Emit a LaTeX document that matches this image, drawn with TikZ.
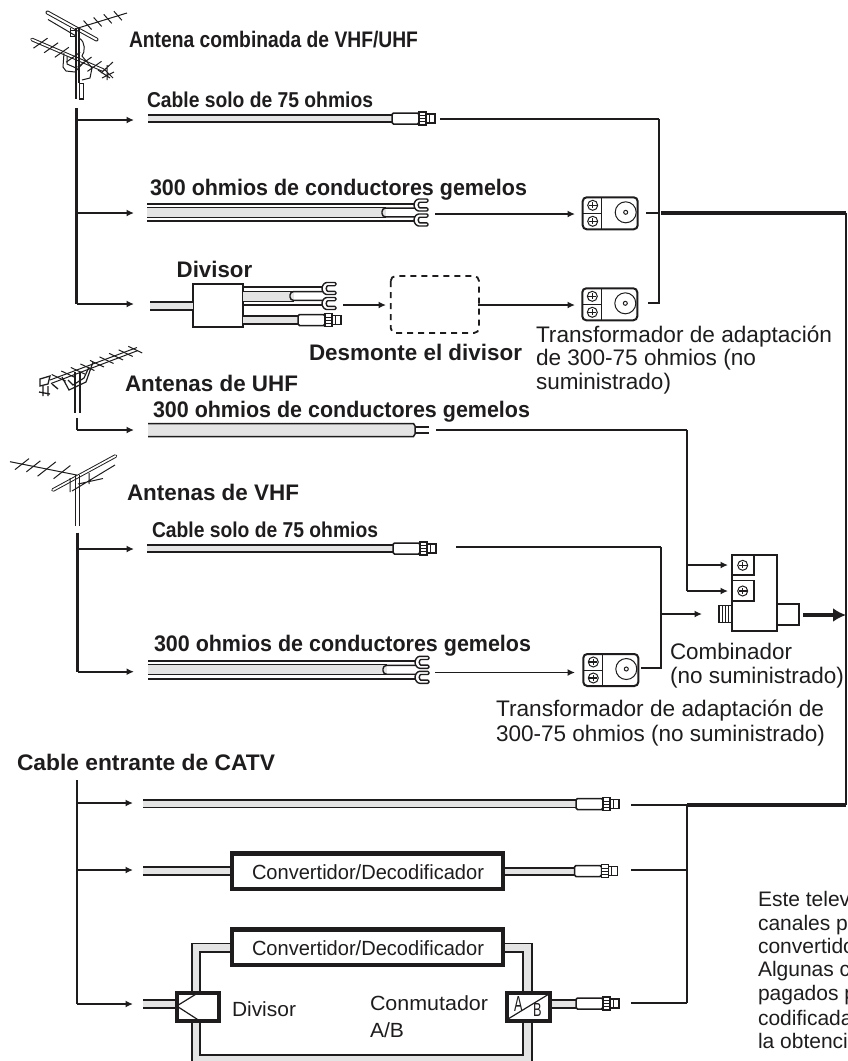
\documentclass[tikz,border=0pt]{standalone}
\usepackage{fontspec}
\usepackage{graphicx}
\setmainfont{Liberation Sans}
\usetikzlibrary{arrows.meta,calc}
\definecolor{ink}{HTML}{1E1C1D}
\definecolor{band}{HTML}{E4E4E4}
\tikzset{
  wire/.style={draw=ink,line width=1.9pt},
  arrowline/.style={wire,-{Latex[length=7.5pt,width=7pt]}},
  trunk/.style={draw=ink,line width=2.3pt},
  bus/.style={draw=ink,line width=4.4pt},
  fine/.style={draw=ink,line width=1pt},
  part/.style={draw=ink,line width=1.5pt,fill=white},
  lbl/.style={anchor=base west,inner sep=0pt,outer sep=0pt,text=ink},
  boxed/.style={draw=ink,line width=4.2pt,fill=white,inner sep=0pt},
}
\newcommand\fitw[2]{\resizebox{#1pt}{\height}{#2}}
\newcommand\bfl[1]{\fontsize{22.5}{24}\selectfont\bfseries #1}
\newcommand\rgl[1]{\fontsize{22.5}{24}\selectfont #1}
\newcommand\sml[1]{\fontsize{20.5}{24}\selectfont #1}
% coaxial plug: #1 sleeve start x, #2 axis y
\newcommand\plug[2]{
  \begin{scope}[shift={(#1,#2)}]
    \draw[part,rounded corners=1.5pt] (0,-5.5) rectangle (27,5.5);
    \draw[part,line width=1.1pt] (27,-6.5) rectangle (34,6.5);
    \draw[fine] (27,-3) -- (34,-3) (27,0) -- (34,0) (27,3) -- (34,3);
    \draw[part,line width=1.8pt] (34,-4.5) rectangle (43,4.5);
    \draw[fine] (37,-4.5) -- (37,4.5);
  \end{scope}}
% spade fork: #1 x, #2 y
\newcommand\fork[2]{
  \begin{scope}[shift={(#1,#2)}]
    \draw[part,line width=1.4pt,rounded corners=1.2pt] (14,-6) -- (6,-6) arc[start angle=270,end angle=90,radius=6] -- (14,6) -- (14,2.8) -- (7,2.8) arc[start angle=90,end angle=270,radius=2.8] -- (14,-2.8) -- cycle;
  \end{scope}}
% twin-lead ribbon: #1 start x, #2 fork x, #3 centre y
\newcommand\twin[3]{
  \fill[band] (#1,#3-5) rectangle (#2-28,#3+5);
  \draw[draw=ink,line width=1.9pt] (#1,#3-8.8) -- (#2+2,#3-8.8) (#1,#3+8.8) -- (#2+2,#3+8.8);
  \draw[fine] (#1,#3-5) -- (#2-28,#3-5) (#1,#3+5) -- (#2-28,#3+5);
  \draw[draw=ink,line width=1.4pt,rounded corners=3.5pt] (#2+2,#3-4.4) -- (#2-32,#3-4.4) -- (#2-32,#3+4.4) -- (#2+2,#3+4.4);
  \fork{#2}{#3-7.5}
  \fork{#2}{#3+7.5}}
% coax ribbon: #1 x0, #2 x1, #3 y, #4 line width
\newcommand\coax[4]{
  \fill[band] (#1,#3-3.6) rectangle (#2,#3+3.6);
  \draw[draw=ink,line width=#4pt] (#1,#3-3.6) -- (#2,#3-3.6) (#1,#3+3.6) -- (#2,#3+3.6);}
% screw: #1 x, #2 y
\newcommand\screw[2]{
  \draw[fine] (#1,#2) circle[radius=5];
  \draw[draw=ink,line width=1.3pt] (#1-4,#2) -- (#1+4,#2) (#1,#2-3) -- (#1,#2+3);}
% matching transformer: #1 x, #2 y
\newcommand\xfmr[2]{
  \begin{scope}[shift={(#1,#2)}]
    \draw[draw=ink,line width=2pt,fill=white,rounded corners=4pt] (0,0) rectangle (55,32);
    \draw[fine] (19,0) -- (19,32) (0,16) -- (19,16);
    \screw{10}{8}
    \screw{10}{24}
    \draw[fine] (43,15) circle[radius=10.5];
    \draw[fine] (43,15) circle[radius=2];
  \end{scope}}
\begin{document}
\begin{tikzpicture}[x=1pt,y=-1pt]
\useasboundingbox (0,0) rectangle (847,1061);
\clip (0,0) rectangle (847,1061);
% ---------- named connection points
\coordinate (T1a) at (76.5,108); \coordinate (T1b) at (76.5,304);
\coordinate (A1) at (134,120); \coordinate (A2) at (134,213); \coordinate (A3) at (134,304);
\coordinate (J1) at (76.5,120); \coordinate (J2) at (76.5,213);
\coordinate (P1) at (440,118.7); \coordinate (B1) at (659,118.7); \coordinate (B2) at (659,302.7);
\coordinate (X1out) at (646,212.7); \coordinate (X2out) at (648,302.7);
\coordinate (BusA) at (661,212.7); \coordinate (BusB) at (846,212.7); \coordinate (BusC) at (846,805); \coordinate (BusD) at (687,805);
\coordinate (F1) at (435,214); \coordinate (X1in) at (575,214);
\coordinate (F2) at (343,305); \coordinate (D2in) at (386,305);
\coordinate (D2out) at (478,305); \coordinate (X2in) at (575,305);
\coordinate (U1) at (77,418); \coordinate (U2) at (77,430); \coordinate (U3) at (134,430);
\coordinate (U4) at (436,430); \coordinate (U5) at (687,430); \coordinate (U6) at (687,591);
\coordinate (U7) at (728,591); \coordinate (U8) at (687,565); \coordinate (U9) at (728,565);
\coordinate (V1) at (77.5,532.5); \coordinate (V2) at (77.5,671.7); \coordinate (V3) at (134,671.7);
\coordinate (V4) at (77.5,549); \coordinate (V5) at (134,549);
\coordinate (V6) at (456,547.3); \coordinate (V7) at (661,547.3); \coordinate (V8) at (661,668);
\coordinate (X3out) at (641,668); \coordinate (V9) at (661,614); \coordinate (V10) at (702,614);
\coordinate (F3) at (435,672.5); \coordinate (X3in) at (575,672.5);
\coordinate (Cout) at (803,615); \coordinate (Coutb) at (846,615);
\coordinate (K1) at (76.7,780); \coordinate (K2) at (76.7,1004);
\coordinate (K3) at (76.7,803); \coordinate (K4) at (133,803);
\coordinate (K5) at (76.7,870); \coordinate (K6) at (133,870); \coordinate (K7) at (133,1004);
\coordinate (L1) at (631,805); \coordinate (L2) at (631,870); \coordinate (L3) at (631,1002.7);
\coordinate (L4) at (687,870); \coordinate (L5) at (687,1002.7);
% ---------- antenna 1 (VHF/UHF)
\draw[draw=ink,line width=4pt,line cap=round] (47.5,12.5) -- (96.5,39.5);
\draw[draw=white,line width=2pt,line cap=round] (47.5,12.5) -- (96.5,39.5);
\draw[fine] (48,19.5) -- (76,36) (76.5,28.5) -- (127,13);
\foreach \p in {0.22,0.42,0.62,0.82}{
  \draw[fine] ($(76.5,28.5)!\p!(127,13)+(-4,-4.5)$) -- ($(76.5,28.5)!\p!(127,13)+(4,4.5)$);}
\draw[fine] (70,28) -- (70,36) -- (76,36) (70,30) -- (76,30);
\draw[draw=ink,line width=3.6pt,line cap=round] (32,39.5) -- (103,70);
\draw[draw=white,line width=1.6pt,line cap=round] (32,39.5) -- (103,70);
\foreach \p in {0.12,0.27,0.42,0.58,0.74,0.88}{
  \draw[fine] ($(32,39.5)!\p!(103,70)+(-7,5)$) -- ($(32,39.5)!\p!(103,70)+(7,-5)$);}
\draw[fine] (64,53) -- (63,67) -- (66,71) -- (75,72) -- (84,62) (67,56) -- (67,64) -- (76,68);
\draw[fine] (79,38) .. controls (86,42) and (85,52) .. (82,56) -- (92,68) -- (90,78) -- (82,80);
\draw[draw=ink,line width=1.3pt] (76,28) -- (76,99) (79,28) -- (79,83);
\draw[part,line width=1.2pt] (79.3,83.5) rectangle (83.3,99);
\draw[fine] (101,73) -- (113,62) (98,70) -- (110,78) (107,65) -- (107,80) (102,78) -- (114,72) (104,69) -- (113,78);
% ---------- antenna 2 (UHF)
\draw[fine] (50,380) -- (137,347.5) (51,383.5) -- (138,350.5);
\foreach \p in {0.10,0.21,0.32,0.43,0.54,0.65,0.76,0.87,0.98}{
  \draw[fine] ($(50,381)!\p!(137,349)+(-7,-3.3)$) -- ($(50,381)!\p!(137,349)+(7,3.3)$);}
\draw[draw=ink,line width=1.2pt] (62,377) -- (69,390) -- (86,382) -- (93,362) (68,380) -- (73,385) -- (84,378) -- (89,367);
\draw[draw=ink,line width=1.2pt] (75,372) -- (75,413) (80,372) -- (80,413);
\draw[draw=ink,line width=1.3pt] (40,379) -- (50,376) -- (48,384) -- (40,386) -- cycle (43,386) -- (43,396) (48,386) -- (48,396) (39,392) -- (50,394) (52,384) -- (58,389);
% ---------- antenna 3 (VHF)
\draw[fine] (10,461.7) -- (76.7,475);
\foreach \p/\l in {0.18/1,0.35/1,0.55/1.3,0.78/1.2}{
  \draw[fine] ($(10,461.7)!\p!(76.7,475)+(-7*\l,5.5*\l)$) -- ($(10,461.7)!\p!(76.7,475)+(7*\l,-5.5*\l)$);}
\draw[draw=ink,line width=3.6pt,line cap=round] (53,490) -- (115.5,456);
\draw[draw=white,line width=1.7pt,line cap=round] (53,490) -- (115.5,456);
\draw[fine] (72,491) -- (115,465) (78,484) -- (103,478.5) (70,478) -- (70,492) (89,473) -- (89,484);
\draw[draw=ink,line width=1.2pt] (75.5,475) -- (75.5,526) (79.5,475) -- (79.5,526);
% ---------- connectors
\draw[trunk] (T1a) -- (T1b);
\draw[arrowline] (T1b) -- (A3);
\draw[arrowline] (J1) -- (A1);
\draw[arrowline] (J2) -- (A2);
\draw[wire] (P1) -- (B1);
\draw[trunk] (B1) -- (B2) -- (X2out);
\draw[wire] (X1out) -- (659,212.7);
\draw[bus] (BusA) -- (BusB);
\draw[trunk] (BusB) -- (BusC);
\draw[bus,line width=3.4pt] (BusC) -- (BusD);
\draw[arrowline] (F1) -- (X1in);
\draw[arrowline] (F2) -- (D2in);
\draw[arrowline] (D2out) -- (X2in);
\draw[trunk] (U1) -- (U2);
\draw[arrowline] (U2) -- (U3);
\draw[wire] (U4) -- (U5);
\draw[trunk] (U5) -- (U6);
\draw[arrowline] (U6) -- (U7);
\draw[arrowline] (U8) -- (U9);
\draw[trunk] (V1) -- (V2);
\draw[arrowline] (V2) -- (V3);
\draw[arrowline] (V4) -- (V5);
\draw[wire] (V6) -- (V7);
\draw[trunk] (V7) -- (V8) -- (X3out);
\draw[arrowline] (V9) -- (V10);
\draw[arrowline] (F3) -- (X3in);
\draw[draw=ink,line width=4.5pt,-{Latex[length=13pt,width=14pt]}] (Cout) -- (Coutb);
\draw[trunk] (K1) -- (K2);
\draw[arrowline] (K3) -- (K4);
\draw[arrowline] (K5) -- (K6);
\draw[arrowline] (K2) -- (K7);
\draw[wire] (L1) -- (BusD);
\draw[wire] (L2) -- (L4);
\draw[trunk] (BusD) -- (L5);
\draw[wire] (L3) -- (L5);
% ---------- antenna block cables
\coax{148}{392}{118.2}{2.2}
\plug{392}{118.5}
\twin{147}{414}{212.5}
\draw[draw=ink,line width=2pt,fill=white] (193,284.3) rectangle (242.7,326.7) node[midway] (div1) {};
\fill[band] (150,302) rectangle (193,310);
\draw[draw=ink,line width=2pt] (150,302) -- (193,302) (150,310) -- (193,310);
\twin{243}{322}{296}
\fill[band] (243,316) rectangle (298,324);
\draw[draw=ink,line width=1.8pt] (243,316) -- (298,316) (243,324) -- (298,324);
\plug{298}{320}
\draw[draw=ink,line width=1.8pt,dash pattern=on 6pt off 5pt,rounded corners=5pt] (390.7,276) rectangle (479,333);
\xfmr{582.7}{197.3}
\xfmr{582.3}{288.3}
% UHF ribbon
\draw[draw=ink,line width=1.5pt,fill=band] (148,423.5) -- (413.5,423.5) -- (415,426) -- (415,434) -- (413.5,436.5) -- (148,436.5);
\draw[draw=ink,line width=1.9pt] (148,423.5) -- (413.5,423.5);
\draw[draw=ink,line width=1.4pt] (415,427) -- (429,427) (415,433) -- (429,433);
% VHF
\coax{147}{393}{548.5}{2}
\plug{393}{548.5}
\twin{148}{415}{669.8}
\xfmr{583.3}{654}
% combiner
\node[draw=ink,line width=2pt,fill=white,minimum width=45.3pt,minimum height=76pt,inner sep=0pt] (comb) at (754.7,593) {};
\draw[draw=ink,line width=1.1pt] (732,555) rectangle (754,575) (732,580.3) rectangle (754,601);
\screw{742.7}{565.3}
\screw{742.7}{591}
\draw[part,line width=1.1pt] (719,605.7) rectangle (732,622.7);
\foreach \x in {722,725,728}{\draw[draw=ink,line width=0.8pt] (\x,605.7) -- (\x,622.7);}
\draw[part,line width=2pt] (777.3,603.7) rectangle (799,625);
% ---------- CATV block
\coax{143}{576}{803.8}{1.7}
\plug{576}{804}
\coax{143}{230}{871}{2}
\coax{505}{575}{871.2}{2}
\plug{574.5}{871}
\node[boxed,minimum width=271pt,minimum height=35.5pt] (conv1) at (367.5,871.3) {};
% loop
\fill[band] (191.7,943.3) -- (230,943.3) -- (230,951.7) -- (200,951.7) -- (200,1055) -- (523.3,1055) -- (523.3,951.7) -- (505,951.7) -- (505,943.3) -- (531.7,943.3) -- (531.7,1066) -- (191.7,1066) -- cycle;
\draw[draw=ink,line width=1.6pt] (230,943.3) -- (191.7,943.3) -- (191.7,1066) (505,943.3) -- (531.7,943.3) -- (531.7,1066);
\draw[draw=ink,line width=2pt] (230,951.7) -- (200,951.7) -- (200,1055) -- (523.3,1055) -- (523.3,951.7) -- (505,951.7);
\node[boxed,minimum width=271pt,minimum height=35.5pt] (conv2) at (367.5,947.2) {};
\coax{143}{175}{1004}{2}
\node[boxed,minimum width=42pt,minimum height=28pt] (split) at (198,1006.7) {};
\draw[draw=ink,line width=1.2pt] (197.3,993.3) -- (176.7,1006) -- (197.3,1019.3);
\fill[band] (552,1000) rectangle (576,1008);
\draw[draw=ink,line width=1.9pt] (552,1000) -- (576,1000) (552,1008) -- (576,1008);
\plug{576}{1003.5}
\node[boxed,minimum width=42.7pt,minimum height=28pt] (ab) at (528.3,1006.7) {};
\draw[draw=ink,line width=1.2pt] (508,1019) -- (549,994);
% ---------- labels
\node[lbl] (t1) at (129,47.7) {\fitw{289}{\bfl{Antena combinada de VHF/UHF}}};
\node[lbl] (t2) at (147,107) {\fitw{226}{\fontsize{21.5}{24}\selectfont\bfseries Cable solo de 75 ohmios}};
\node[lbl] (t3) at (150,195) {\fitw{377}{\bfl{300 ohmios de conductores gemelos}}};
\node[lbl] (t4) at (176.7,277.7) {\fitw{75.5}{\bfl{Divisor}}};
\node[lbl] (t5) at (309,360.7) {\fitw{213}{\bfl{Desmonte el divisor}}};
\node[lbl] (t6) at (536,342) {\fitw{296}{\rgl{Transformador de adaptación}}};
\node[lbl] (t7) at (536,365.7) {\fitw{220}{\rgl{de 300-75 ohmios (no}}};
\node[lbl] (t8) at (536,389.5) {\fitw{135}{\rgl{suministrado)}}};
\node[lbl] (t9) at (125,391) {\fitw{173}{\bfl{Antenas de UHF}}};
\node[lbl] (t10) at (153,417) {\fitw{377}{\bfl{300 ohmios de conductores gemelos}}};
\node[lbl] (t11) at (127,500.7) {\fitw{172}{\bfl{Antenas de VHF}}};
\node[lbl] (t12) at (152,537.7) {\fitw{226}{\fontsize{21.5}{24}\selectfont\bfseries Cable solo de 75 ohmios}};
\node[lbl] (t13) at (154,651.7) {\fitw{377}{\bfl{300 ohmios de conductores gemelos}}};
\node[lbl] (t14) at (670,659) {\fitw{122}{\rgl{Combinador}}};
\node[lbl] (t15) at (670,683.3) {\fitw{174}{\rgl{(no suministrado)}}};
\node[lbl] (t16) at (496,716) {\fitw{328}{\rgl{Transformador de adaptación de}}};
\node[lbl] (t17) at (496,741) {\fitw{329}{\rgl{300-75 ohmios (no suministrado)}}};
\node[lbl] (t18) at (17,770) {\fitw{258}{\bfl{Cable entrante de CATV}}};
\node[lbl] (t19) at (252,879) {\fitw{232}{\sml{Convertidor/Decodificador}}};
\node[lbl] (t20) at (252,955.7) {\fitw{232}{\sml{Convertidor/Decodificador}}};
\node[lbl] (t21) at (232,1016) {\fitw{64}{\sml{Divisor}}};
\node[lbl] (t22) at (370,1010.7) {\fitw{118}{\sml{Conmutador}}};
\node[lbl] (t23) at (370,1037) {\fitw{34}{\sml{A/B}}};
\node[lbl] (tA) at (514,1011.7) {\resizebox{8.5pt}{15pt}{\sml{A}}};
\node[lbl] (tB) at (533,1016.7) {\resizebox{8.5pt}{13pt}{\sml{B}}};
\foreach \n/\y/\s in {r1/906/Este telev,r2/930/canales p,r3/953.5/convertido,r4/976.5/Algunas c,r5/1000.7/pagados p,r6/1025/codificada,r7/1048/la obtenci}{
  \node[lbl] (\n) at (758,\y) {\fontsize{21}{24}\selectfont \s};}
\end{tikzpicture}
\end{document}
